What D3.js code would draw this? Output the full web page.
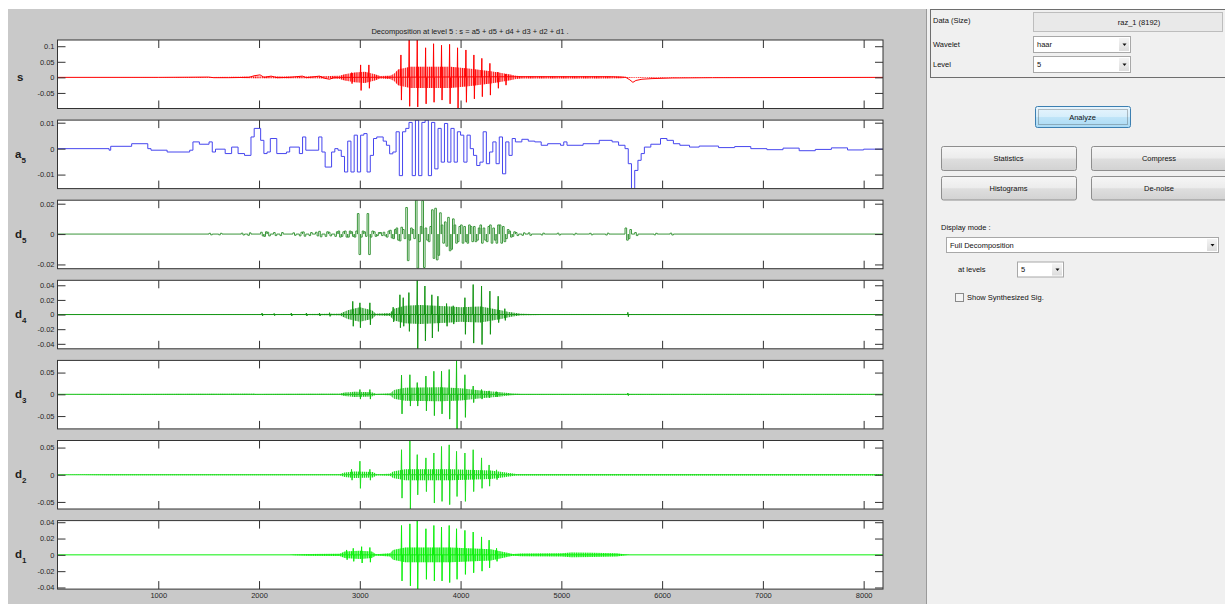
<!DOCTYPE html>
<html><head><meta charset="utf-8">
<script src="https://cdn.jsdelivr.net/npm/d3@7"></script>
<style>
body{margin:0;background:#fff;}
svg{display:block;font-family:"Liberation Sans",Arial,sans-serif;}
</style></head><body>
<svg id="c" width="1225" height="604"></svg>
<script>
// ---------------- DATA ----------------
const nSamples = 8192;
const xTicks = [1000,2000,3000,4000,5000,6000,7000,8000];
const titleText = "Decomposition at level 5 : s = a5 + d5 + d4 + d3 + d2 + d1 .";
const rowLetters = ["s","a","d","d","d","d","d"];
const rowSubs = ["","5","5","4","3","2","1"];
const yDomains = [[-0.1,0.12],[-0.0154,0.011],[-0.0228,0.0223],[-0.0468,0.0468],[-0.0795,0.078],[-0.063,0.063],[-0.042,0.042]];
const yTicks = [[-0.05,0,0.05,0.1],[-0.01,0,0.01],[-0.02,0,0.02],[-0.04,-0.02,0,0.02,0.04],[-0.05,0,0.05],[-0.05,0,0.05],[-0.04,-0.02,0,0.02,0.04]];

// s : slow part, oscillation envelope, spikes [sample, hi, lo]
const sBase = [[0,0],[1000,0],[1300,0.0005],[1500,0.001],[1550,-0.001],[1700,-0.001],[1900,0],[1950,0.005],[2010,0.008],[2050,0],[2120,0.004],[2180,-0.001],[2300,0],[2430,0.004],[2470,-0.001],[2600,0.004],[2650,-0.003],[2700,-0.006],[2750,0],[2800,0],[4600,0.002],[5500,0.002],[5640,0],[5680,-0.008],[5710,-0.016],[5740,-0.01],[5800,-0.006],[5900,-0.004],[6100,-0.002],[6500,-0.001],[8192,0]];
const sBand = [[0,0],[1000,0.0005],[1300,0.0012],[1500,0.0015],[1800,0.002],[1950,0.003],[2050,0.0025],[2300,0.0025],[2500,0.003],[2700,0.004],[2800,0.005],[2850,0.01],[2950,0.016],[3050,0.018],[3150,0.01],[3200,0.004],[3300,0.005],[3340,0.012],[3380,0.025],[3500,0.034],[3900,0.034],[4100,0.028],[4300,0.02],[4450,0.012],[4550,0.005],[4600,0.0035],[5400,0.0035],[5600,0.0025],[5650,0.001],[8192,0.0005]];
const sPeaks = [[2918,0.015,-0.02],[3008,0.04,-0.042],[3090,0.04,-0.035],[3408,0.072,-0.073],[3490,0.12,-0.093],[3570,0.12,-0.095],[3653,0.095,-0.085],[3732,0.108,-0.08],[3811,0.103,-0.073],[3891,0.106,-0.085],[3970,0.095,-0.1],[4053,0.088,-0.08],[4132,0.072,-0.069],[4211,0.061,-0.062],[4291,0.045,-0.057],[4370,0.017,-0.035],[4446,0.01,-0.025]];

// a5 : approximation steps [start sample, value]
const a5Steps = [[0,0],[512,-0.0006],[528,0.0009],[736,0.0019],[896,0],[928,-0.0006],[1088,-0.0013],[1312,-0.0006],[1344,0.0026],[1408,0.0017],[1504,0.0026],[1536,-0.0013],[1568,-0.0002],[1664,-0.0019],[1728,0.0006],[1792,-0.0019],[1856,-0.0026],[1920,0.0045],[1952,0.0078],[2016,0.0032],[2048,-0.0019],[2080,-0.0013],[2112,0.0039],[2176,-0.0019],[2272,-0.0013],[2304,0.0006],[2400,-0.0019],[2432,0.0045],[2464,-0.0006],[2592,0.0045],[2624,-0.0013],[2656,-0.0071],[2720,-0.0013],[2752,0],[2784,-0.0006],[2816,-0.003],[2848,-0.009],[2880,0.0029],[2912,-0.009],[2944,0.0052],[2976,-0.009],[3008,0.0052],[3040,0.0058],[3072,-0.009],[3104,-0.0026],[3136,0.0039],[3168,0.0045],[3232,0.0029],[3264,0.0013],[3296,-0.002],[3328,-0.0013],[3360,0.0065],[3392,-0.0104],[3424,0.0065],[3456,0.0078],[3488,0.0101],[3520,-0.0104],[3552,0.011],[3584,-0.0104],[3616,0.0101],[3648,0.011],[3680,-0.0104],[3712,0.0101],[3744,-0.0078],[3776,0.0078],[3808,-0.0052],[3840,0.0097],[3872,-0.0052],[3904,0.0078],[3936,-0.0052],[3968,0.0065],[4000,0.0052],[4032,-0.0052],[4064,0.0052],[4096,0],[4128,-0.0026],[4160,-0.0065],[4192,-0.0052],[4224,0.0065],[4256,-0.0058],[4288,-0.0013],[4320,0.0026],[4352,-0.0058],[4384,0.0045],[4416,-0.0097],[4448,0.0026],[4480,-0.0026],[4512,0.0039],[4544,0.0026],[4608,0.0036],[4672,0.0029],[4736,0.0026],[4800,0.0013],[4864,0.0019],[4992,0.0013],[5024,0.0026],[5056,0.0013],[5216,0.0019],[5376,0.0032],[5504,0.0026],[5568,0.0013],[5632,0],[5664,-0.0058],[5696,-0.0155],[5728,-0.0084],[5760,-0.0045],[5792,-0.0019],[5824,0.0006],[5888,0.0017],[5984,0.0039],[6048,0.0032],[6112,0.0019],[6176,0.0013],[6272,0.0006],[6368,0.001],[6560,0.0004],[6720,0.0008],[6880,0],[7040,-0.0004],[7200,0.0002],[7360,-0.0008],[7520,-0.0003],[7680,0.0003],[7840,-0.0005],[8000,-0.0002],[8192,-0.0002]];

// d5 : haar detail blocks of 32 samples [start sample, coefficient]
const d5Blocks = [[1504,0.0005],[1600,-0.0005],[1824,0.0006],[1888,-0.0008],[2016,0.0012],[2048,-0.0015],[2080,0.0012],[2144,0.001],[2208,-0.001],[2336,0.0008],[2400,-0.0012],[2432,0.0014],[2496,-0.001],[2560,0.0012],[2592,0.0018],[2656,-0.0015],[2688,0.0012],[2752,-0.0015],[2784,0.002],[2816,-0.0015],[2848,0.002],[2880,-0.002],[2912,0.0015],[2944,-0.002],[2976,0.0135],[3008,-0.002],[3040,0.0015],[3072,0.0135],[3104,-0.002],[3136,0.0015],[3168,-0.001],[3200,0.001],[3232,0.0012],[3264,-0.002],[3296,0.0025],[3328,-0.003],[3360,0.004],[3392,-0.0045],[3424,0.003],[3456,0.0175],[3488,-0.004],[3520,0.003],[3552,0.0225],[3584,-0.005],[3616,0.022],[3648,0.004],[3680,-0.005],[3712,0.016],[3744,0.017],[3776,-0.014],[3808,0.006],[3840,0.008],[3872,0.011],[3904,-0.01],[3936,0.006],[3968,-0.005],[4000,0.006],[4032,0.005],[4064,-0.006],[4096,0.005],[4128,0.005],[4160,-0.004],[4192,0.006],[4224,0.004],[4256,-0.005],[4288,0.006],[4320,0.004],[4352,-0.006],[4384,0.006],[4416,0.005],[4448,-0.003],[4480,0.002],[4512,-0.0015],[4544,0.001],[4608,-0.0008],[4672,0.0008],[4800,-0.0006],[4960,0.0006],[5120,-0.0005],[5280,0.0005],[5440,-0.0006],[5632,0.004],[5664,-0.003],[5728,0.001],[5920,-0.0005],[6080,0.0006]];

// d4..d1 : oscillation envelopes [sample, amplitude] and spikes [sample, hi, lo]
const d4Band = [[0,0],[2000,0.0004],[2800,0.001],[2880,0.006],[3000,0.01],[3120,0.006],[3160,0.001],[3300,0.002],[3340,0.008],[3450,0.012],[3600,0.013],[3900,0.011],[4000,0.01],[4200,0.011],[4400,0.006],[4500,0.003],[4600,0.001],[4800,0.0005],[8192,0.0003]];
const d4Peaks = [[2030,0.002,-0.002],[2150,0.0015,-0.0015],[2320,0.002,-0.002],[2470,0.002,-0.002],[2600,0.002,-0.002],[2700,0.0025,-0.0025],[2930,0.018,-0.016],[3001,0.016,-0.018],[3100,0.016,-0.014],[3331,0.01,-0.01],[3398,0.027,-0.018],[3431,0.023,-0.016],[3487,0.03,-0.023],[3570,0.047,-0.047],[3646,0.039,-0.036],[3715,0.027,-0.032],[3775,0.025,-0.023],[3861,0.015,-0.016],[3927,0.012,-0.013],[4043,0.023,-0.027],[4125,0.041,-0.039],[4208,0.039,-0.041],[4291,0.032,-0.027],[4373,0.025,-0.011],[4439,0.008,-0.008],[5660,0.003,-0.003]];
const d3Band = [[0,0],[800,0.0008],[2800,0.0012],[2850,0.004],[2950,0.006],[3120,0.005],[3160,0.001],[3300,0.002],[3340,0.01],[3450,0.015],[3800,0.016],[4000,0.014],[4200,0.009],[4400,0.005],[4500,0.002],[4600,0.001],[8192,0.0008]];
const d3Peaks = [[3001,0.011,-0.011],[3100,0.011,-0.011],[3414,0.044,-0.045],[3497,0.045,-0.027],[3570,0.027,-0.027],[3656,0.042,-0.038],[3735,0.053,-0.049],[3811,0.053,-0.045],[3887,0.057,-0.057],[3960,0.08,-0.08],[4043,0.045,-0.053],[4125,0.019,-0.019],[4208,0.011,-0.011],[4283,0.008,-0.008],[4357,0.006,-0.006],[5660,0.003,-0.003]];
const d2Band = [[0,0],[500,0.0008],[2800,0.001],[2850,0.004],[2950,0.006],[3130,0.005],[3170,0.001],[3300,0.002],[3330,0.006],[3450,0.01],[3900,0.01],[4300,0.008],[4450,0.004],[4550,0.0015],[8192,0.0012]];
const d2Peaks = [[2918,0.01,-0.01],[3001,0.025,-0.025],[3100,0.01,-0.01],[3414,0.046,-0.043],[3497,0.063,-0.063],[3570,0.037,-0.037],[3656,0.031,-0.031],[3735,0.04,-0.052],[3811,0.052,-0.049],[3887,0.055,-0.055],[3960,0.043,-0.04],[4043,0.04,-0.049],[4125,0.046,-0.031],[4208,0.031,-0.025],[4283,0.018,-0.021],[4357,0.009,-0.009]];
const d1Band = [[0,0],[2300,0],[2350,0.0005],[2500,0.001],[2800,0.0015],[2850,0.004],[3000,0.005],[3120,0.004],[3160,0.0008],[3300,0.002],[3330,0.006],[3450,0.009],[3900,0.009],[4300,0.007],[4450,0.003],[4520,0.001],[4600,0.0018],[5000,0.002],[5100,0.003],[5300,0.0025],[5550,0.002],[5620,0.0008],[5680,0],[8192,0]];
const d1Peaks = [[2869,0.006,-0.006],[2935,0.008,-0.008],[3018,0.01,-0.01],[3100,0.009,-0.009],[3414,0.036,-0.032],[3497,0.038,-0.038],[3570,0.042,-0.042],[3656,0.032,-0.03],[3735,0.036,-0.032],[3811,0.034,-0.032],[3887,0.036,-0.034],[3960,0.032,-0.03],[4043,0.03,-0.024],[4125,0.028,-0.022],[4208,0.022,-0.02],[4283,0.018,-0.016],[4357,0.008,-0.008]];

// ---------------- DRAW ----------------
const svg = d3.select("#c");
const defs = svg.append("defs");
function grad(id, stops){
  const g = defs.append("linearGradient").attr("id",id).attr("x1",0).attr("y1",0).attr("x2",0).attr("y2",1);
  stops.forEach(s=>g.append("stop").attr("offset",s[0]).attr("stop-color",s[1]));
}
grad("gBtn",[["0%","#f6f6f6"],["48%","#ececec"],["52%","#dedede"],["100%","#d2d2d2"]]);
grad("gAna",[["0%","#e8f5fd"],["48%","#d6eefb"],["52%","#bfe4f8"],["100%","#a9daf4"]]);
grad("gArr",[["0%","#f4f4f4"],["100%","#dcdcdc"]]);

svg.append("rect").attr("width",1225).attr("height",604).attr("fill","#fff");
svg.append("rect").attr("x",8).attr("y",9).attr("width",918).attr("height",595).attr("fill","#c9c9c9");
svg.append("rect").attr("x",926).attr("y",9).attr("width",299).attr("height",595).attr("fill","#f0f0f0");
svg.append("line").attr("x1",926.5).attr("x2",926.5).attr("y1",9).attr("y2",604).attr("stroke","#9a9a9a");

const x = d3.scaleLinear().domain([0,nSamples]).range([57.5,883]);
const panelTop = i => 40 + i*80.1;
const panelH = 68.5;

svg.append("text").attr("x",470).attr("y",33.5).attr("text-anchor","middle")
  .attr("font-size",7.5).attr("fill","#1a1a1a").text(titleText);

const colors = ["#ff0000","#4646ee","#3b963b","#129412","#14c014","#1ede1e","#0af00a"];
const bands = [sBand,null,null,d4Band,d3Band,d2Band,d1Band];
const peaks = [sPeaks,null,null,d4Peaks,d3Peaks,d2Peaks,d1Peaks];
const hatchPeriod = [2.2,0,0,2.4,2.2,2,1.8];

for(let i=0;i<7;i++){
  const t = panelTop(i);
  const y = d3.scaleLinear().domain(yDomains[i]).range([t+panelH,t]);
  const g = svg.append("g");
  const col = colors[i];
  g.append("rect").attr("x",x.range()[0]).attr("y",t).attr("width",x.range()[1]-x.range()[0]).attr("height",panelH).attr("fill","#fff");
  defs.append("clipPath").attr("id","clip"+i).append("rect")
    .attr("x",x.range()[0]).attr("y",t).attr("width",x.range()[1]-x.range()[0]).attr("height",panelH);
  if(hatchPeriod[i]){
    const p = defs.append("pattern").attr("id","hatch"+i).attr("patternUnits","userSpaceOnUse")
      .attr("width",hatchPeriod[i]).attr("height",4);
    p.append("rect").attr("width",1.1).attr("height",4).attr("fill",col);
  }
  const m = g.append("g").attr("clip-path",`url(#clip${i})`);
  const line = d3.line().x(d=>x(d[0])).y(d=>y(d[1]));

  if(i===1){
    m.append("path").attr("d",d3.line().x(d=>x(d[0])).y(d=>y(d[1])).curve(d3.curveStepAfter)(a5Steps))
      .attr("fill","none").attr("stroke",col).attr("stroke-width",1);
  } else if(i===2){
    const pts=[[0,0]];
    d5Blocks.forEach(b=>{
      const s=b[0], c=b[1];
      pts.push([s,0],[s,c],[s+16,c],[s+16,-c],[s+32,-c],[s+32,0]);
    });
    pts.push([nSamples,0]);
    m.append("path").attr("d",line(pts)).attr("fill","none").attr("stroke",col).attr("stroke-width",1);
  } else {
    const band = bands[i];
    const area = d3.area().x(d=>x(d[0])).y0(d=>y(-d[1])).y1(d=>y(d[1]));
    m.append("path").attr("d",area(band)).attr("fill",col).attr("fill-opacity",0.22);
    m.append("path").attr("d",area(band)).attr("fill",`url(#hatch${i})`);
    const base = i===0 ? sBase : [[0,0],[nSamples,0]];
    m.append("path").attr("d",line(base)).attr("fill","none").attr("stroke",col).attr("stroke-width",1);
    m.selectAll("path.pk").data(peaks[i]).join("path").attr("class","pk")
      .attr("d",p=>line([[p[0]-4,0],[p[0],p[1]],[p[0]+5,p[2]],[p[0]+9,0]]))
      .attr("fill","none").attr("stroke",col).attr("stroke-width",1);
  }

  // axes
  const tk = 8;
  const axL = d3.axisLeft(y).tickValues(yTicks[i]).tickSizeInner(-tk).tickSizeOuter(0).tickPadding(3).tickFormat(d=>String(d));
  const axR = d3.axisRight(y).tickValues(yTicks[i]).tickSizeInner(-tk).tickSizeOuter(0).tickFormat("");
  const axT = d3.axisTop(x).tickValues(xTicks).tickSizeInner(-tk).tickSizeOuter(0).tickFormat("");
  const axB = d3.axisBottom(x).tickValues(xTicks).tickSizeInner(-tk).tickSizeOuter(0).tickPadding(4).tickFormat(i===6?(d=>String(d)):"");
  const gl = g.append("g").attr("transform",`translate(${x.range()[0]},0)`).call(axL);
  const gr = g.append("g").attr("transform",`translate(${x.range()[1]},0)`).call(axR);
  const gt = g.append("g").attr("transform",`translate(0,${t})`).call(axT);
  const gb = g.append("g").attr("transform",`translate(0,${t+panelH})`).call(axB);
  [gl,gr,gt,gb].forEach(a=>{
    a.select(".domain").remove();
    a.selectAll("line").attr("stroke","#333");
    a.selectAll("text").attr("font-size",7.5).attr("fill","#262626").attr("font-family","Liberation Sans, Arial, sans-serif");
  });
  g.append("rect").attr("x",x.range()[0]).attr("y",t).attr("width",x.range()[1]-x.range()[0]).attr("height",panelH)
    .attr("fill","none").attr("stroke","#333").attr("stroke-width",1);

  // row label
  const cy = t + panelH/2;
  const lbl = g.append("text").attr("font-weight","bold").attr("fill","#1c1c1c").attr("font-size",11.5);
  if(i===0){ lbl.attr("x",17).attr("y",cy+6.5).text(rowLetters[i]); }
  else {
    lbl.attr("x",15).attr("y",cy+(i===1?4:3.5));
    lbl.append("tspan").text(rowLetters[i]);
    lbl.append("tspan").attr("font-size",8).attr("dy",5).text(rowSubs[i]);
  }
}

// ---------------- CONTROL PANEL ----------------
const ui = svg.append("g").attr("font-size",7.5).attr("fill","#111");
function txt(xp,yp,s,anchor){ ui.append("text").attr("x",xp).attr("y",yp+2.6).attr("text-anchor",anchor||"start").text(s); }
ui.append("rect").attr("x",930.5).attr("y",9.5).attr("width",300).attr("height",68).attr("fill","none").attr("stroke","#6e6e6e");
txt(933,20,"Data  (Size)");
ui.append("rect").attr("x",1033.5).attr("y",12.5).attr("width",189).attr("height",19).attr("fill","#e9e9e9").attr("stroke","#bdbdbd");
txt(1139,22,"raz_1  (8192)","middle");
function popup(x0,y0,w,h,label){
  ui.append("rect").attr("x",x0+0.5).attr("y",y0+0.5).attr("width",w).attr("height",h).attr("fill","#fff").attr("stroke","#a8a8a8");
  ui.append("rect").attr("x",x0+w-11).attr("y",y0+2).attr("width",10).attr("height",h-3).attr("fill","url(#gArr)");
  const cx = x0+w-5.5, cyy = y0+h/2+0.5;
  ui.append("path").attr("d",`M${cx-2},${cyy-1}L${cx+2},${cyy-1}L${cx},${cyy+1.5}Z`).attr("fill","#111");
  txt(x0+4,y0+h/2+0.5,label);
}
txt(933,44,"Wavelet");
popup(1033,36,97,16,"haar");
txt(933,64,"Level");
popup(1033,56,97,16,"5");

function button(x0,y0,w,h,label,fill,stroke){
  ui.append("rect").attr("x",x0+0.5).attr("y",y0+0.5).attr("width",w).attr("height",h).attr("rx",2).attr("fill",fill).attr("stroke",stroke);
  txt(x0+w/2,y0+h/2+0.5,label,"middle");
}
button(1035,106,95,21,"Analyze","url(#gAna)","#3c7fb1");
ui.append("rect").attr("x",1038.5).attr("y",109.5).attr("width",89).attr("height",15).attr("fill","none").attr("stroke","#333").attr("stroke-width",0.6).attr("stroke-dasharray","1,1");
button(941,146,135,24,"Statistics","url(#gBtn)","#8e8e8e");
button(1091,146,136,24,"Compress","url(#gBtn)","#8e8e8e");
button(941,176,135,23.5,"Histograms","url(#gBtn)","#8e8e8e");
button(1091,176,136,23.5,"De-noise","url(#gBtn)","#8e8e8e");

txt(941,227,"Display mode :");
popup(946,237,272,15,"Full Decomposition");
txt(958,269,"at levels");
popup(1017,261.5,46,15,"5");
ui.append("rect").attr("x",955.5).attr("y",293.5).attr("width",8).attr("height",8).attr("fill","#f4f4f4").attr("stroke","#8a8a8a");
txt(967,297.5,"Show Synthesized Sig.");
</script></body></html>
